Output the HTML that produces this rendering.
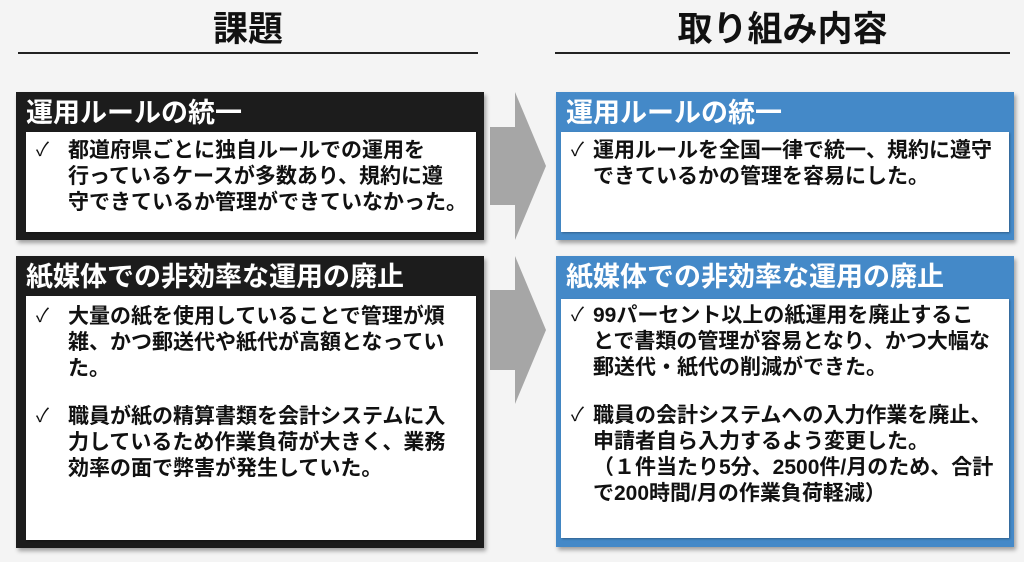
<!DOCTYPE html>
<html><head><meta charset="utf-8"><style>
*{margin:0;padding:0;box-sizing:border-box}
body{width:1024px;height:562px;background:#f4f4f4;position:relative;overflow:hidden;font-family:"Liberation Sans","Noto Sans CJK JP",sans-serif;font-weight:bold}
.t{position:absolute;font-size:35px;color:#111;text-align:center;top:8px;line-height:44px}
.ln{position:absolute;height:2px;background:#222;top:52px}
.box{position:absolute;box-shadow:2px 3px 4px rgba(0,0,0,.35)}
.dark{background:#1c1c1c}.blue{background:#4489c8}
.h{position:absolute;left:10px;top:3px;color:#fff;font-size:27px;line-height:36px;white-space:nowrap}
.in{position:absolute;background:#fff;box-shadow:1px 1px 2px rgba(0,0,0,.3)}
.p{position:absolute;font-size:21px;line-height:26px;color:#111;white-space:nowrap}
.ck{position:absolute;font-size:19px;line-height:26px;color:#111;font-weight:normal}
</style></head><body>
<div class="t" style="left:18px;width:460px">課題</div>
<div class="ln" style="left:18px;width:460px"></div>
<div class="t" style="left:555px;width:455px">取り組み内容</div>
<div class="ln" style="left:555px;width:455px"></div>

<svg style="position:absolute;left:0;top:0" width="1024" height="562">
<polygon points="490,127 515,127 515,92 546,166 515,240 515,205 490,205" fill="#a6a6a6"/>
<polygon points="490,290 515,290 515,256 546,330 515,404 515,370 490,370" fill="#a6a6a6"/>
</svg>

<div class="box dark" style="left:16px;top:92px;width:468px;height:148px">
<div class="h">運用ルールの統一</div>
<div class="in" style="left:10px;top:40px;width:450px;height:100px">
<div class="ck" style="left:10px;top:6px">✓</div>
<div class="p" style="left:42px;top:6px">都道府県ごとに独自ルールでの運用を<br>行っているケースが多数あり、規約に遵<br>守できているか管理ができていなかった。</div>
</div></div>

<div class="box dark" style="left:16px;top:256px;width:468px;height:292px">
<div class="h">紙媒体での非効率な運用の廃止</div>
<div class="in" style="left:10px;top:40px;width:450px;height:244px">
<div class="ck" style="left:10px;top:8px">✓</div>
<div class="p" style="left:42px;top:8px">大量の紙を使用していることで管理が煩<br>雑、かつ郵送代や紙代が高額となってい<br>た。</div>
<div class="ck" style="left:10px;top:108px">✓</div>
<div class="p" style="left:42px;top:108px">職員が紙の精算書類を会計システムに入<br>力しているため作業負荷が大きく、業務<br>効率の面で弊害が発生していた。</div>
</div></div>

<div class="box blue" style="left:556px;top:92px;width:458px;height:148px">
<div class="h">運用ルールの統一</div>
<div class="in" style="left:5px;top:40px;width:448px;height:100px">
<div class="ck" style="left:10px;top:6px">✓</div>
<div class="p" style="left:32px;top:6px">運用ルールを全国一律で統一、規約に遵守<br>できているかの管理を容易にした。</div>
</div></div>

<div class="box blue" style="left:556px;top:256px;width:458px;height:291px">
<div class="h">紙媒体での非効率な運用の廃止</div>
<div class="in" style="left:5px;top:43px;width:448px;height:239px">
<div class="ck" style="left:10px;top:4px">✓</div>
<div class="p" style="left:32px;top:4px">99パーセント以上の紙運用を廃止するこ<br>とで書類の管理が容易となり、かつ大幅な<br>郵送代・紙代の削減ができた。</div>
<div class="ck" style="left:10px;top:104px">✓</div>
<div class="p" style="left:32px;top:104px">職員の会計システムへの入力作業を廃止、<br>申請者自ら入力するよう変更した。<br>（１件当たり5分、2500件/月のため、合計<br>で200時間/月の作業負荷軽減）</div>
</div></div>
</body></html>
